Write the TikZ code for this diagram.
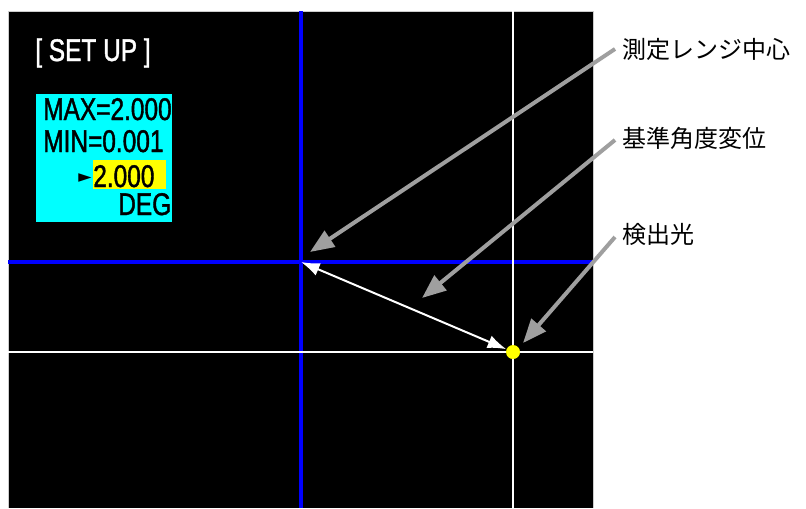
\documentclass[tikz,border=0pt]{standalone}
\usepackage{fontspec}
\setmainfont{Liberation Sans}
\newfontfamily\lcdfont[FakeStretch=0.78,FakeBold=1.3]{Liberation Sans}
\newfontfamily\symfont{DejaVu Sans}
\newfontfamily\jpfont{Noto Sans CJK JP}
\usetikzlibrary{arrows.meta,calc,positioning}
\definecolor{menucyan}{RGB}{0,255,255}
\definecolor{markyellow}{RGB}{255,255,0}
\definecolor{rangeblue}{RGB}{0,0,255}

\begin{document}
\begin{tikzpicture}[x=0.75pt,y=-0.75pt,
  rangeline/.style={line width=2.6pt,rangeblue},
  crossline/.style={line width=1.3pt,white},
  callout/.style={draw=gray!75,line width=3pt,-{Triangle[length=18pt,width=14pt]}},
  lcd/.style={font=\lcdfont\fontsize{23.5}{23.5}\selectfont,inner sep=0pt,anchor=base west},
  calltext/.style={font=\jpfont\fontsize{18}{18}\selectfont,inner sep=0pt,anchor=west}]
  \useasboundingbox (0,0) rectangle (806,508);
  % screen
  \fill[black] (8,11) rectangle (593,508);
  \draw[gray!40,line width=0.6pt] (8,508) -- (8,11) -- (593,11) -- (593,508);
  % range centre cross and detected light cross
  \draw[rangeline] (301,11) -- (301,508);
  \draw[rangeline] (8,262) -- (593,262);
  \draw[crossline] (513,11) -- (513,508);
  \draw[crossline] (8,352) -- (593,352);
  \coordinate (center) at (301,262);
  \node[circle,fill=markyellow,inner sep=0pt,minimum size=10.5pt] (spot) at (513,352) {};
  % setup menu
  \node[lcd,text=white] (title) at (35,61) {[ SET UP ]};
  \fill[menucyan] (36,94) rectangle (172,222);
  \fill[markyellow] (93,160) rectangle (166,189);
  \node[lcd] (maxval) at (43,120) {MAX=2.000};
  \node[lcd] (minval) at (43,152) {MIN=0.001};
  \node[lcd,font=\symfont\fontsize{13}{13}\selectfont] (cursor) at (78,182) {►};
  \node[lcd] (refval) at (93,187) {2.000};
  \node[lcd] (unit) at (118,215) {DEG};
  % reference angle displacement
  \draw[white,line width=1.5pt,{Latex[length=14pt,width=10pt]}-{Latex[length=14pt,width=10pt]}]
    (center) -- (spot);
  % callouts
  \node[calltext] (lblcenter) at (622,49) {測定レンジ中心};
  \node[calltext] (lbldisp) at (622,138) {基準角度変位};
  \node[calltext] (lbllight) at (622,234) {検出光};
  \coordinate (tipcenter) at (310,252);
  \coordinate (tipdisp) at (422,298);
  \coordinate (tiplight) at (523,343);
  \draw[callout] ($(lblcenter.west)+(-7,0)$) -- (tipcenter);
  \draw[callout] ($(lbldisp.west)+(-7,2)$) -- (tipdisp);
  \draw[callout] ($(lbllight.west)+(-7,3)$) -- (tiplight);
\end{tikzpicture}
\end{document}
